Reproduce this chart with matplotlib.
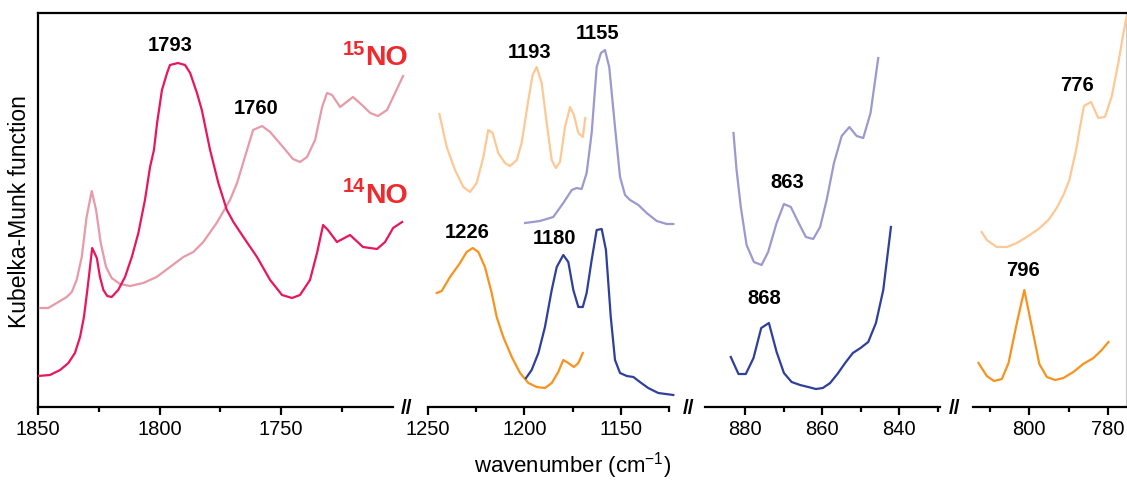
import matplotlib
matplotlib.use('Agg')
import matplotlib.pyplot as plt
from matplotlib.ticker import FixedLocator

plt.rcParams['font.family'] = ['Liberation Sans', 'DejaVu Sans']
plt.rcParams['mathtext.fontset'] = 'custom'
plt.rcParams['mathtext.rm'] = 'Liberation Sans'
plt.rcParams['mathtext.it'] = 'Liberation Sans:italic'
plt.rcParams['mathtext.bf'] = 'Liberation Sans:bold'

# ---- data (wavenumber in cm-1, Kubelka-Munk in arbitrary units) ----
# panel 1: 1850-1700
wn_p1_14 = [1850.0, 1845.1, 1840.9, 1837.5, 1834.8, 1832.7, 1831.1, 1829.7, 1828.6, 1827.7,
            1825.8, 1824.5, 1823.1, 1821.5, 1819.7, 1817.0, 1814.2, 1811.4, 1808.7, 1806.0,
            1803.9, 1802.3, 1801.0, 1799.0, 1796.9, 1795.7, 1792.4, 1789.5, 1787.4, 1784.6,
            1782.6, 1779.2, 1775.8, 1772.3, 1769.6, 1765.5, 1759.9, 1754.5, 1749.6, 1745.5,
            1742.2, 1738.1, 1735.2, 1732.7, 1730.7, 1727.0, 1721.6, 1716.3, 1710.5, 1707.2,
            1703.9, 1700.2]
km_p1_14 = [31, 32, 37, 44, 54, 70, 90, 117, 140, 159,
            149, 130, 117, 111, 110, 117, 130, 150, 174, 207,
            240, 257, 284, 317, 334, 342, 344, 342, 334, 314,
            297, 257, 224, 197, 185, 170, 150, 127, 112, 109,
            112, 127, 154, 182, 177, 165, 172, 160, 158, 165,
            179, 185]

wn_p1_15 = [1849.2, 1845.8, 1843.7, 1840.9, 1838.2, 1836.1, 1834.1, 1832.0, 1830.0, 1827.9,
            1826.1, 1824.2, 1822.0, 1819.7, 1816.3, 1812.1, 1806.7, 1801.2, 1795.7, 1790.2,
            1786.1, 1782.0, 1776.5, 1771.0, 1768.1, 1764.0, 1761.5, 1757.8, 1754.5, 1749.2,
            1745.1, 1742.2, 1739.3, 1736.0, 1733.1, 1731.1, 1729.0, 1725.7, 1720.4, 1716.7,
            1713.3, 1710.1, 1706.4, 1703.1, 1699.8]
km_p1_15 = [99, 99, 102, 106, 110, 115, 127, 150, 190, 216,
            197, 164, 140, 129, 123, 121, 124, 130, 140, 150,
            155, 165, 184, 207, 224, 257, 277, 281, 275, 260,
            248, 245, 250, 267, 300, 314, 312, 300, 310, 302,
            294, 291, 297, 314, 331]

# panel 2: 1250-1120
wn_p2_14_or = [1245.5, 1242.9, 1238.6, 1233.4, 1230.0, 1226.8, 1223.9, 1220.5, 1217.0, 1214.4,
               1211.0, 1206.6, 1202.3, 1198.0, 1193.7, 1189.4, 1185.9, 1182.5, 1179.9, 1177.3,
               1174.4, 1172.1, 1169.8]
km_p2_14_or = [114, 116, 130, 144, 155, 159, 155, 140, 114, 90,
               70, 50, 34, 24, 20, 19, 24, 35, 47, 44,
               40, 44, 54]

wn_p2_14_bl = [1199.2, 1196.3, 1192.8, 1189.4, 1185.9, 1183.3, 1179.9, 1177.3, 1174.7, 1172.1,
               1169.8, 1167.8, 1165.2, 1162.6, 1160.0, 1157.8, 1155.3, 1153.1, 1150.5, 1147.0,
               1143.6, 1140.2, 1135.9, 1130.7, 1122.9]
km_p2_14_bl = [29, 37, 54, 80, 117, 140, 152, 145, 117, 100,
               100, 114, 147, 177, 178, 157, 90, 47, 34, 31,
               30, 25, 19, 14, 12]

wn_p2_15_or = [1244.1, 1240.3, 1236.0, 1231.7, 1228.2, 1224.8, 1221.3, 1218.8, 1216.5, 1213.6,
               1210.1, 1207.5, 1204.0, 1201.5, 1198.0, 1195.8, 1193.7, 1191.1, 1188.5, 1185.9,
               1183.8, 1181.6, 1179.0, 1176.4, 1174.4, 1172.1, 1169.8, 1168.5]
km_p2_15_or = [293, 260, 237, 220, 215, 224, 250, 277, 274, 254,
               244, 241, 247, 264, 307, 332, 340, 324, 284, 247,
               239, 245, 280, 300, 292, 274, 270, 289]

wn_p2_15_pu = [1199.7, 1192.0, 1185.1, 1179.9, 1175.5, 1173.0, 1170.4, 1167.8, 1165.2, 1162.6,
               1160.4, 1158.3, 1156.1, 1153.1, 1150.5, 1147.9, 1145.3, 1141.0, 1136.7, 1131.5,
               1126.3, 1122.9]
km_p2_15_pu = [184, 186, 190, 204, 217, 219, 218, 234, 274, 340,
               354, 357, 340, 280, 230, 212, 207, 202, 194, 186,
               183, 183]

# panel 3: 890-830
wn_p3_14 = [883.7, 881.7, 879.8, 877.8, 875.8, 873.8, 871.8, 869.9, 867.9, 865.7,
            863.6, 861.6, 859.8, 857.9, 856.0, 854.0, 852.0, 850.0, 848.0, 846.0,
            844.1, 842.1]
km_p3_14 = [50, 33, 33, 49, 79, 84, 55, 34, 25, 22,
            20, 18, 19, 24, 33, 44, 54, 59, 65, 84,
            117, 180]

wn_p3_15 = [883.0, 882.2, 881.1, 879.6, 877.7, 875.7, 874.0, 871.8, 869.9, 868.1,
            866.2, 864.2, 862.3, 860.5, 858.8, 856.9, 854.9, 852.9, 851.0, 849.3,
            847.4, 845.4]
km_p3_15 = [274, 237, 200, 162, 145, 142, 155, 184, 203, 200,
            185, 170, 168, 180, 207, 244, 271, 280, 271, 269,
            294, 349]

# panel 4: 814-775
wn_p4_14 = [812.8, 810.7, 808.9, 806.9, 805.2, 803.1, 801.2, 799.3, 797.4, 795.5,
            793.4, 791.3, 788.8, 786.3, 783.7, 781.6, 779.9]
km_p4_14 = [44, 31, 26, 28, 44, 84, 117, 80, 43, 30,
            27, 29, 35, 43, 49, 57, 65]

wn_p4_15 = [812.0, 810.7, 808.2, 805.6, 803.1, 800.6, 797.6, 795.1, 793.0, 791.3,
            789.8, 788.1, 787.1, 786.1, 784.3, 782.5, 780.8, 779.1, 777.4, 776.1,
            775.3]
km_p4_15 = [175, 167, 160, 160, 164, 170, 178, 187, 199, 212,
            227, 257, 280, 301, 305, 289, 290, 310, 344, 374,
            390]

# peak labels: (panel, wavenumber, height, text)
peak_labels = [(0, 1795.7, 362, '1793'), (0, 1760.3, 299, '1760'),
               (1, 1197.2, 355, '1193'), (1, 1161.9, 374, '1155'),
               (1, 1229.5, 175, '1226'), (1, 1184.2, 169, '1180'),
               (2, 869.1, 225, '863'), (2, 874.9, 109, '868'),
               (3, 787.8, 322, '776'), (3, 801.6, 137, '796')]

c_pink = '#e8155f'
c_pink_lt = '#e79aa8'
c_or = '#f7931e'
c_or_lt = '#fdc894'
c_blue = '#2e3f9c'
c_pu_lt = '#9c98d0'
c_red = '#ee2a2e'

W, H = 1127, 480
fig = plt.figure(figsize=(W / 100, H / 100), dpi=100)
y0, y1 = 407, 13


def add_px_axes(x0, x1):
    return fig.add_axes([x0 / W, (H - y0) / H, (x1 - x0) / W, (y0 - y1) / H])


# frame: top + left spine, light right edge
frame = add_px_axes(38, 1126)
frame.set_xticks([])
frame.set_yticks([])
frame.patch.set_alpha(0)
frame.spines['bottom'].set_visible(False)
for s in ('top', 'left'):
    frame.spines[s].set_linewidth(1.6)
frame.spines['right'].set_color('#c8c8c8')
frame.spines['right'].set_linewidth(0.8)

panels = [
    dict(px=(38, 405), xlim=(1850, 1699.0), major=[1850, 1800, 1750], minor=[1825, 1775, 1725],
         bounds=(1850, 1703.9)),
    dict(px=(428, 676), xlim=(1250, 1121.5), major=[1250, 1200, 1150], minor=[1225, 1175, 1125],
         bounds=(1250, 1125)),
    dict(px=(705, 941), xlim=(890.4, 829.1), major=[880, 860, 840], minor=[870, 850, 830],
         bounds=(890.4, 829.4)),
    dict(px=(973, 1127), xlim=(814.2, 775.2), major=[800, 780], minor=[810, 790],
         bounds=(814.2, 775.2)),
]

axes = []
for p in panels:
    ax = add_px_axes(*p['px'])
    ax.set_xlim(*p['xlim'])
    ax.set_ylim(0, y0 - y1)
    ax.patch.set_alpha(0)
    for s in ('top', 'left', 'right'):
        ax.spines[s].set_visible(False)
    ax.spines['bottom'].set_linewidth(1.6)
    ax.spines['bottom'].set_bounds(*p['bounds'])
    ax.set_yticks([])
    ax.xaxis.set_major_locator(FixedLocator(p['major']))
    ax.xaxis.set_minor_locator(FixedLocator(p['minor']))
    ax.tick_params(axis='x', which='major', length=5.5, width=1.6, labelsize=14.5, pad=4)
    ax.tick_params(axis='x', which='minor', length=3.5, width=1.6)
    axes.append(ax)

lw = 1.6
axes[0].plot(wn_p1_15, km_p1_15, color=c_pink_lt, lw=lw)
axes[0].plot(wn_p1_14, km_p1_14, color=c_pink, lw=lw)
axes[1].plot(wn_p2_15_or, km_p2_15_or, color=c_or_lt, lw=lw)
axes[1].plot(wn_p2_15_pu, km_p2_15_pu, color=c_pu_lt, lw=lw)
axes[1].plot(wn_p2_14_or, km_p2_14_or, color=c_or, lw=lw)
axes[1].plot(wn_p2_14_bl, km_p2_14_bl, color=c_blue, lw=lw)
axes[2].plot(wn_p3_15, km_p3_15, color=c_pu_lt, lw=lw)
axes[2].plot(wn_p3_14, km_p3_14, color=c_blue, lw=lw)
axes[3].plot(wn_p4_15, km_p4_15, color=c_or_lt, lw=lw)
axes[3].plot(wn_p4_14, km_p4_14, color=c_or, lw=lw)

for i, x, y, t in peak_labels:
    axes[i].text(x, y, t, ha='center', va='center', fontsize=14.5, fontweight='bold')

# isotope labels
for sup, ysup, yno in (('15', 358, 349), ('14', 220, 211)):
    axes[0].text(1715.6, ysup, sup, ha='right', va='center', fontsize=14.5,
                 fontweight='bold', color=c_red)
    axes[0].text(1715.4, yno, 'NO', ha='left', va='center', fontsize=20.5,
                 fontweight='bold', color=c_red)

# axis break marks
for xb in (407, 689, 955):
    fig.text(xb / W, 1 - 408 / H, '//', ha='center', va='center', fontsize=15,
             fontweight='bold')

fig.text(20 / W, 1 - 212 / H, 'Kubelka-Munk function', rotation=90, ha='center',
         va='center', fontsize=16.5)
fig.text(573 / W, 1 - 466 / H, 'wavenumber (cm$^{-1}$)', ha='center', va='center',
         fontsize=16)

fig.savefig('out.png', dpi=100)
